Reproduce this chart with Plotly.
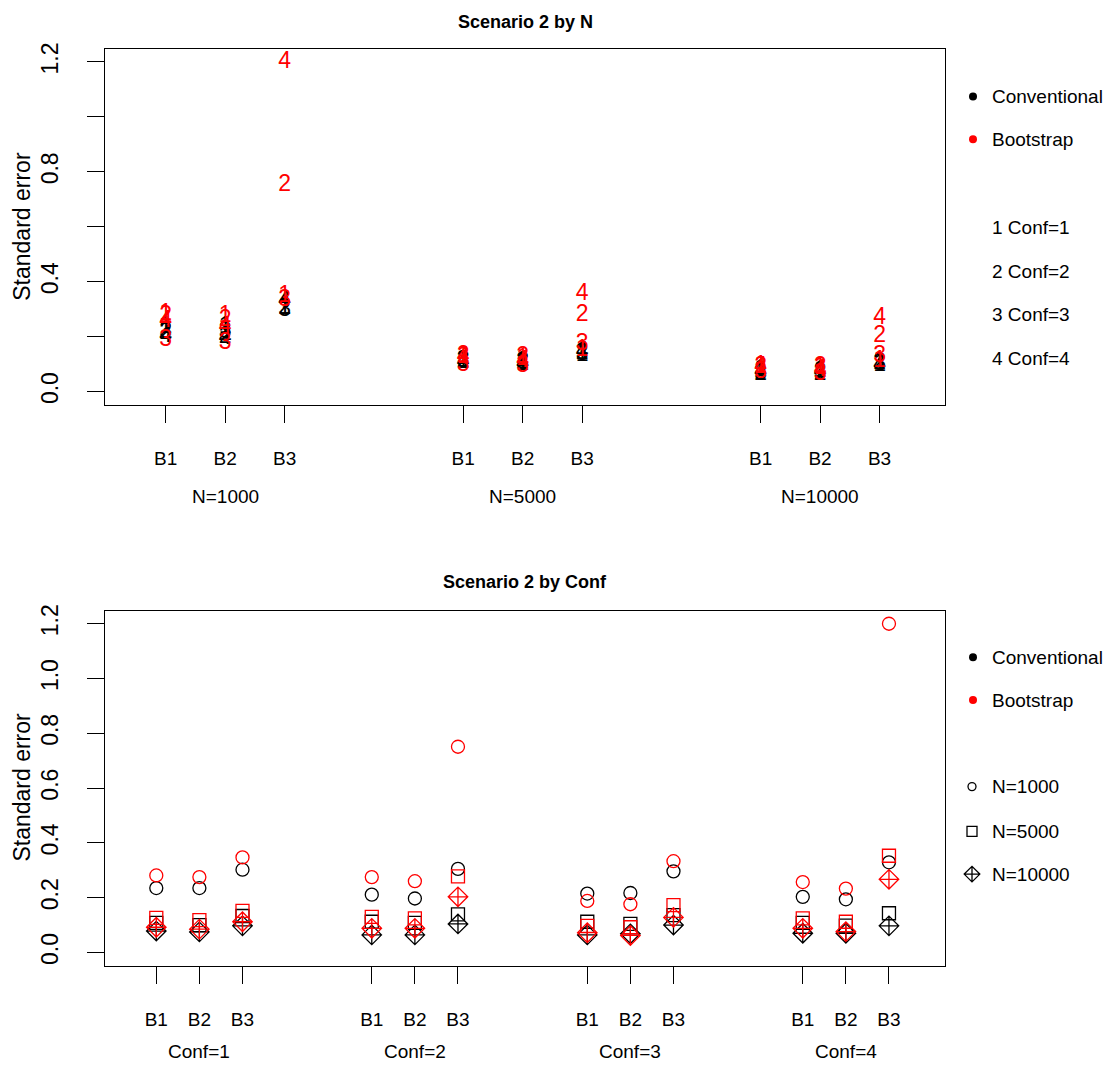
import plotly.graph_objects as go

# ---------------- data ----------------
confs = ["1", "2", "3", "4"]
b_labels = ["B1", "B2", "B3"]
n_labels = ["N=1000", "N=5000", "N=10000"]
conf_labels = ["Conf=1", "Conf=2", "Conf=3", "Conf=4"]

# values ordered conf-major (Conf=1..4), then B1,B2,B3
conv_n1000 = [0.235, 0.235, 0.302, 0.211, 0.197, 0.305, 0.215, 0.217, 0.296, 0.203, 0.194, 0.329]
boot_n1000 = [0.281, 0.275, 0.347, 0.275, 0.260, 0.751, 0.188, 0.176, 0.333, 0.257, 0.233, 1.200]
conv_n5000 = [0.108, 0.100, 0.133, 0.112, 0.108, 0.139, 0.112, 0.104, 0.136, 0.108, 0.098, 0.143]
boot_n5000 = [0.126, 0.118, 0.152, 0.130, 0.124, 0.278, 0.097, 0.092, 0.173, 0.124, 0.112, 0.353]
conv_n10000 = [0.078, 0.075, 0.097, 0.064, 0.064, 0.104, 0.064, 0.068, 0.100, 0.070, 0.070, 0.097]
boot_n10000 = [0.092, 0.085, 0.112, 0.088, 0.088, 0.203, 0.072, 0.062, 0.128, 0.088, 0.076, 0.267]

conv_by_n = [conv_n1000, conv_n5000, conv_n10000]
boot_by_n = [boot_n1000, boot_n5000, boot_n10000]

W, H = 1113, 1069
FONT = "Liberation Sans"
RED = "#FF0000"
BLACK = "#000000"

fig = go.Figure()

# ---------------- top panel: by N, labelled by Conf ----------------
for method_vals, color in [(conv_by_n, BLACK), (boot_by_n, RED)]:
    xs, ys, ts = [], [], []
    for g in range(3):
        for c in range(4):
            for b in range(3):
                xs.append(1 + 5 * g + b)
                ys.append(method_vals[g][c * 3 + b])
                ts.append(confs[c])
    fig.add_trace(go.Scatter(
        x=xs, y=ys, text=ts, mode="text",
        textfont=dict(family=FONT, size=23, color=color),
        textposition="middle center",
        xaxis="x", yaxis="y", showlegend=False, hoverinfo="skip"))

# ---------------- bottom panel: by Conf, symbol by N ----------------
n_symbols = ["circle-open", "square-open", "diamond-cross-open"]
n_sizes = [13, 13, 15]
for method_vals, color in [(conv_by_n, BLACK), (boot_by_n, RED)]:
    for g in range(3):
        xs, ys = [], []
        for c in range(4):
            for b in range(3):
                xs.append(1 + 5 * c + b)
                ys.append(method_vals[g][c * 3 + b])
        fig.add_trace(go.Scatter(
            x=xs, y=ys, mode="markers",
            marker=dict(symbol=n_symbols[g], size=n_sizes[g], color=color,
                        line=dict(color=color, width=1.3)),
            xaxis="x2", yaxis="y2", showlegend=False, hoverinfo="skip"))

# ---------------- legend symbols (pixel overlay axis) ----------------
fig.add_trace(go.Scatter(x=[973, 973], y=[91, 134], mode="markers",
                         marker=dict(symbol="circle", size=8, color=[BLACK, RED]),
                         xaxis="x3", yaxis="y3", showlegend=False, hoverinfo="skip"))
fig.add_trace(go.Scatter(x=[973, 973], y=[655, 698], mode="markers",
                         marker=dict(symbol="circle", size=8, color=[BLACK, RED]),
                         xaxis="x3", yaxis="y3", showlegend=False, hoverinfo="skip"))
leg_sym_y = [785, 830, 873]
leg_sym_size = [8, 10, 12]
for g in range(3):
    fig.add_trace(go.Scatter(x=[972], y=[leg_sym_y[g]], mode="markers",
                             marker=dict(symbol=n_symbols[g], size=leg_sym_size[g], color=BLACK,
                                         line=dict(color=BLACK, width=1.3)),
                             xaxis="x3", yaxis="y3", showlegend=False, hoverinfo="skip"))

# ---------------- layout ----------------
def px_x(p):
    return p / W

def px_y(p):
    return 1 - p / H

xdom = [px_x(105), px_x(945)]
top_ydom = [px_y(401), px_y(43)]
bot_ydom = [px_y(965), px_y(608)]

axis_common = dict(showline=True, mirror=True, linecolor=BLACK, linewidth=1.3,
                   ticks="outside", ticklen=17, tickwidth=1.3, tickcolor=BLACK,
                   showgrid=False, zeroline=False)

top_xticks = [1 + 5 * g + b for g in range(3) for b in range(3)]
bot_xticks = [1 + 5 * c + b for c in range(4) for b in range(3)]
yvals = [0, 0.2, 0.4, 0.6, 0.8, 1.0, 1.2]

annotations = []
title_font = dict(family=FONT, size=18, color=BLACK)
annotations.append(dict(text="<b>Scenario 2 by N</b>", x=px_x(525), y=px_y(16), xref="paper", yref="paper",
                        showarrow=False, font=title_font, xanchor="center", yanchor="middle"))
annotations.append(dict(text="<b>Scenario 2 by Conf</b>", x=px_x(525), y=px_y(579), xref="paper", yref="paper",
                        showarrow=False, font=title_font, xanchor="center", yanchor="middle"))
for yc in [222, 786]:
    annotations.append(dict(text="Standard error", x=px_x(22), y=px_y(yc), xref="paper", yref="paper",
                            showarrow=False, textangle=-90, font=dict(family=FONT, size=23, color=BLACK),
                            xanchor="center", yanchor="middle"))
for g in range(3):
    annotations.append(dict(text=n_labels[g], x=2 + 5 * g, y=px_y(493), xref="x", yref="paper",
                            showarrow=False, font=dict(family=FONT, size=19, color=BLACK),
                            xanchor="center", yanchor="middle"))
for c in range(4):
    annotations.append(dict(text=conf_labels[c], x=2 + 5 * c, y=px_y(1051), xref="x2", yref="paper",
                            showarrow=False, font=dict(family=FONT, size=19, color=BLACK),
                            xanchor="center", yanchor="middle"))

leg_font = dict(family=FONT, size=19, color=BLACK)
top_leg = [("Conventional", 91), ("Bootstrap", 134)] + [(f"{confs[c]} {conf_labels[c]}", yy)
                                                      for c, yy in zip(range(4), [223, 267, 310, 354])]
bot_leg = [("Conventional", 655), ("Bootstrap", 698)] + [(n_labels[g], leg_sym_y[g]) for g in range(3)]
for txt, yy in top_leg + bot_leg:
    annotations.append(dict(text=txt, x=px_x(990), y=px_y(yy), xref="paper", yref="paper",
                            showarrow=False, font=leg_font, xanchor="left", yanchor="middle"))

fig.update_layout(
    width=W, height=H,
    margin=dict(l=0, r=0, t=0, b=0),
    paper_bgcolor="white", plot_bgcolor="rgba(0,0,0,0)",
    font=dict(family=FONT, color=BLACK),
    xaxis=dict(domain=xdom, range=[-0.02, 14.10], tickvals=top_xticks,
               ticktext=b_labels * 3, anchor="y", ticklabelstandoff=19,
               tickfont=dict(family=FONT, size=19, color=BLACK), **axis_common),
    yaxis=dict(domain=top_ydom, range=[-0.048, 1.248], tickvals=yvals,
               ticktext=["0.0", "", "0.4", "", "0.8", "", "1.2"], tickangle=-90,
               anchor="x", ticklabelstandoff=20,
               tickfont=dict(family=FONT, size=23, color=BLACK), **axis_common),
    xaxis2=dict(domain=xdom, range=[-0.19, 19.30], tickvals=bot_xticks,
                ticktext=b_labels * 4, anchor="y2", ticklabelstandoff=19,
                tickfont=dict(family=FONT, size=19, color=BLACK), **axis_common),
    yaxis2=dict(domain=bot_ydom, range=[-0.048, 1.248], tickvals=yvals,
                ticktext=["0.0", "0.2", "0.4", "0.6", "0.8", "1.0", "1.2"], tickangle=-90,
                anchor="x2", ticklabelstandoff=20,
                tickfont=dict(family=FONT, size=23, color=BLACK), **axis_common),
    xaxis3=dict(domain=[0, 1], range=[0, W], visible=False, anchor="y3"),
    yaxis3=dict(domain=[0, 1], range=[H, 0], visible=False, anchor="x3"),
    annotations=annotations,
)

fig.write_html("out.html")
